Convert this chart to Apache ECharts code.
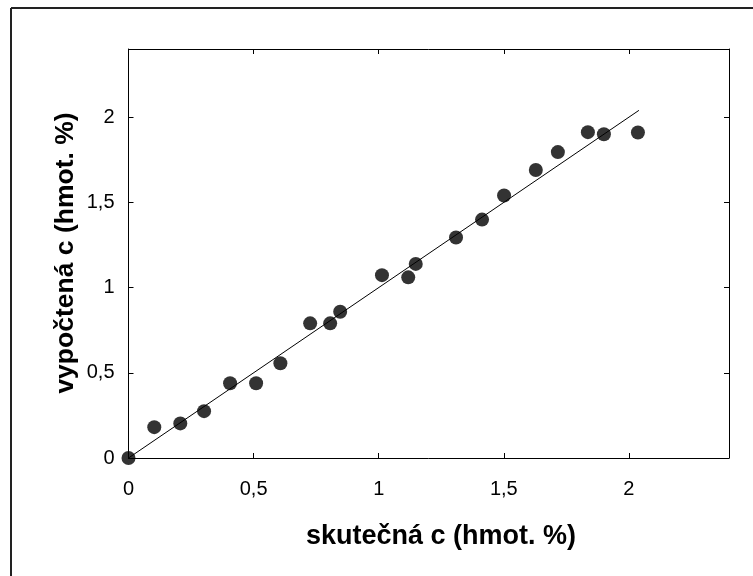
<!DOCTYPE html>
<html>
<head>
<meta charset="utf-8">
<script src="https://cdn.jsdelivr.net/npm/echarts@6/dist/echarts.min.js"></script>
<style>html,body{margin:0;padding:0;background:#fff;}#c{width:753px;height:576px;}</style>
</head>
<body>
<div id="c"></div>
<script>
const xTitle = 'skutečná c (hmot. %)';
const yTitle = 'vypočtená c (hmot. %)';
const actual = [0, 0.103, 0.207, 0.302, 0.406, 0.510, 0.607, 0.726, 0.806, 0.846, 1.013, 1.118, 1.148, 1.309, 1.413, 1.501, 1.628, 1.716, 1.836, 1.900, 2.036];
const computed = [0, 0.181, 0.203, 0.275, 0.439, 0.439, 0.556, 0.790, 0.790, 0.858, 1.073, 1.060, 1.139, 1.294, 1.399, 1.540, 1.690, 1.795, 1.912, 1.900, 1.910];
const fitLine = [[0, 0], [2.04, 2.04]];
const axisMin = 0, axisMax = 2.4, axisStep = 0.5;
const fmt = v => String(v).replace('.', ',');

const chart = echarts.init(document.getElementById('c'), null, {renderer: 'canvas'});
const font = 'Liberation Sans, Arial, sans-serif';
function axis(extra) {
  return Object.assign({
    type: 'value', min: axisMin, max: axisMax, interval: axisStep,
    axisLine: {show: true, onZero: false, lineStyle: {color: '#000', width: 1}},
    axisTick: {show: true, inside: true, length: 5, lineStyle: {color: '#000'}},
    splitLine: {show: false}
  }, extra);
}
chart.setOption({
  animation: false,
  grid: {left: 128.5, top: 49, right: 24, bottom: 118, containLabel: false},
  xAxis: [
    axis({position: 'bottom',
      axisLabel: {show: true, margin: 21, fontSize: 20, color: '#000', fontFamily: font, formatter: fmt,
        showMaxLabel: false}}),
    axis({position: 'top', axisLabel: {show: false}})
  ],
  yAxis: [
    axis({position: 'left',
      axisLabel: {show: true, margin: 14, fontSize: 20, color: '#000', fontFamily: font, formatter: fmt,
        showMaxLabel: false}}),
    axis({position: 'right', axisLabel: {show: false}})
  ],
  graphic: [
    {type: 'line', shape: {x1: 11, y1: 8, x2: 753, y2: 8}, style: {stroke: '#222', lineWidth: 2}},
    {type: 'line', shape: {x1: 11, y1: 8, x2: 11, y2: 576}, style: {stroke: '#222', lineWidth: 2}},
    {type: 'text', x: 441, y: 537, style: {text: xTitle, font: 'bold 27px ' + font, fill: '#000', textAlign: 'center', textVerticalAlign: 'middle'}},
    {type: 'text', x: 66, y: 253, rotation: Math.PI / 2, style: {text: yTitle, font: 'bold 26.5px ' + font, fill: '#000', textAlign: 'center', textVerticalAlign: 'middle'}}
  ],
  series: [
    {type: 'line', data: fitLine, symbol: 'none', lineStyle: {color: '#000', width: 1}, z: 2, silent: true},
    {type: 'scatter', data: actual.map((x, i) => [x, computed[i]]), symbol: 'circle', symbolSize: 14,
      itemStyle: {color: '#000'}, z: 3},
    {type: 'scatter', xAxisIndex: 1, yAxisIndex: 1, data: [[0, 0]], symbolSize: 0, silent: true}
  ]
});
</script>
</body>
</html>
